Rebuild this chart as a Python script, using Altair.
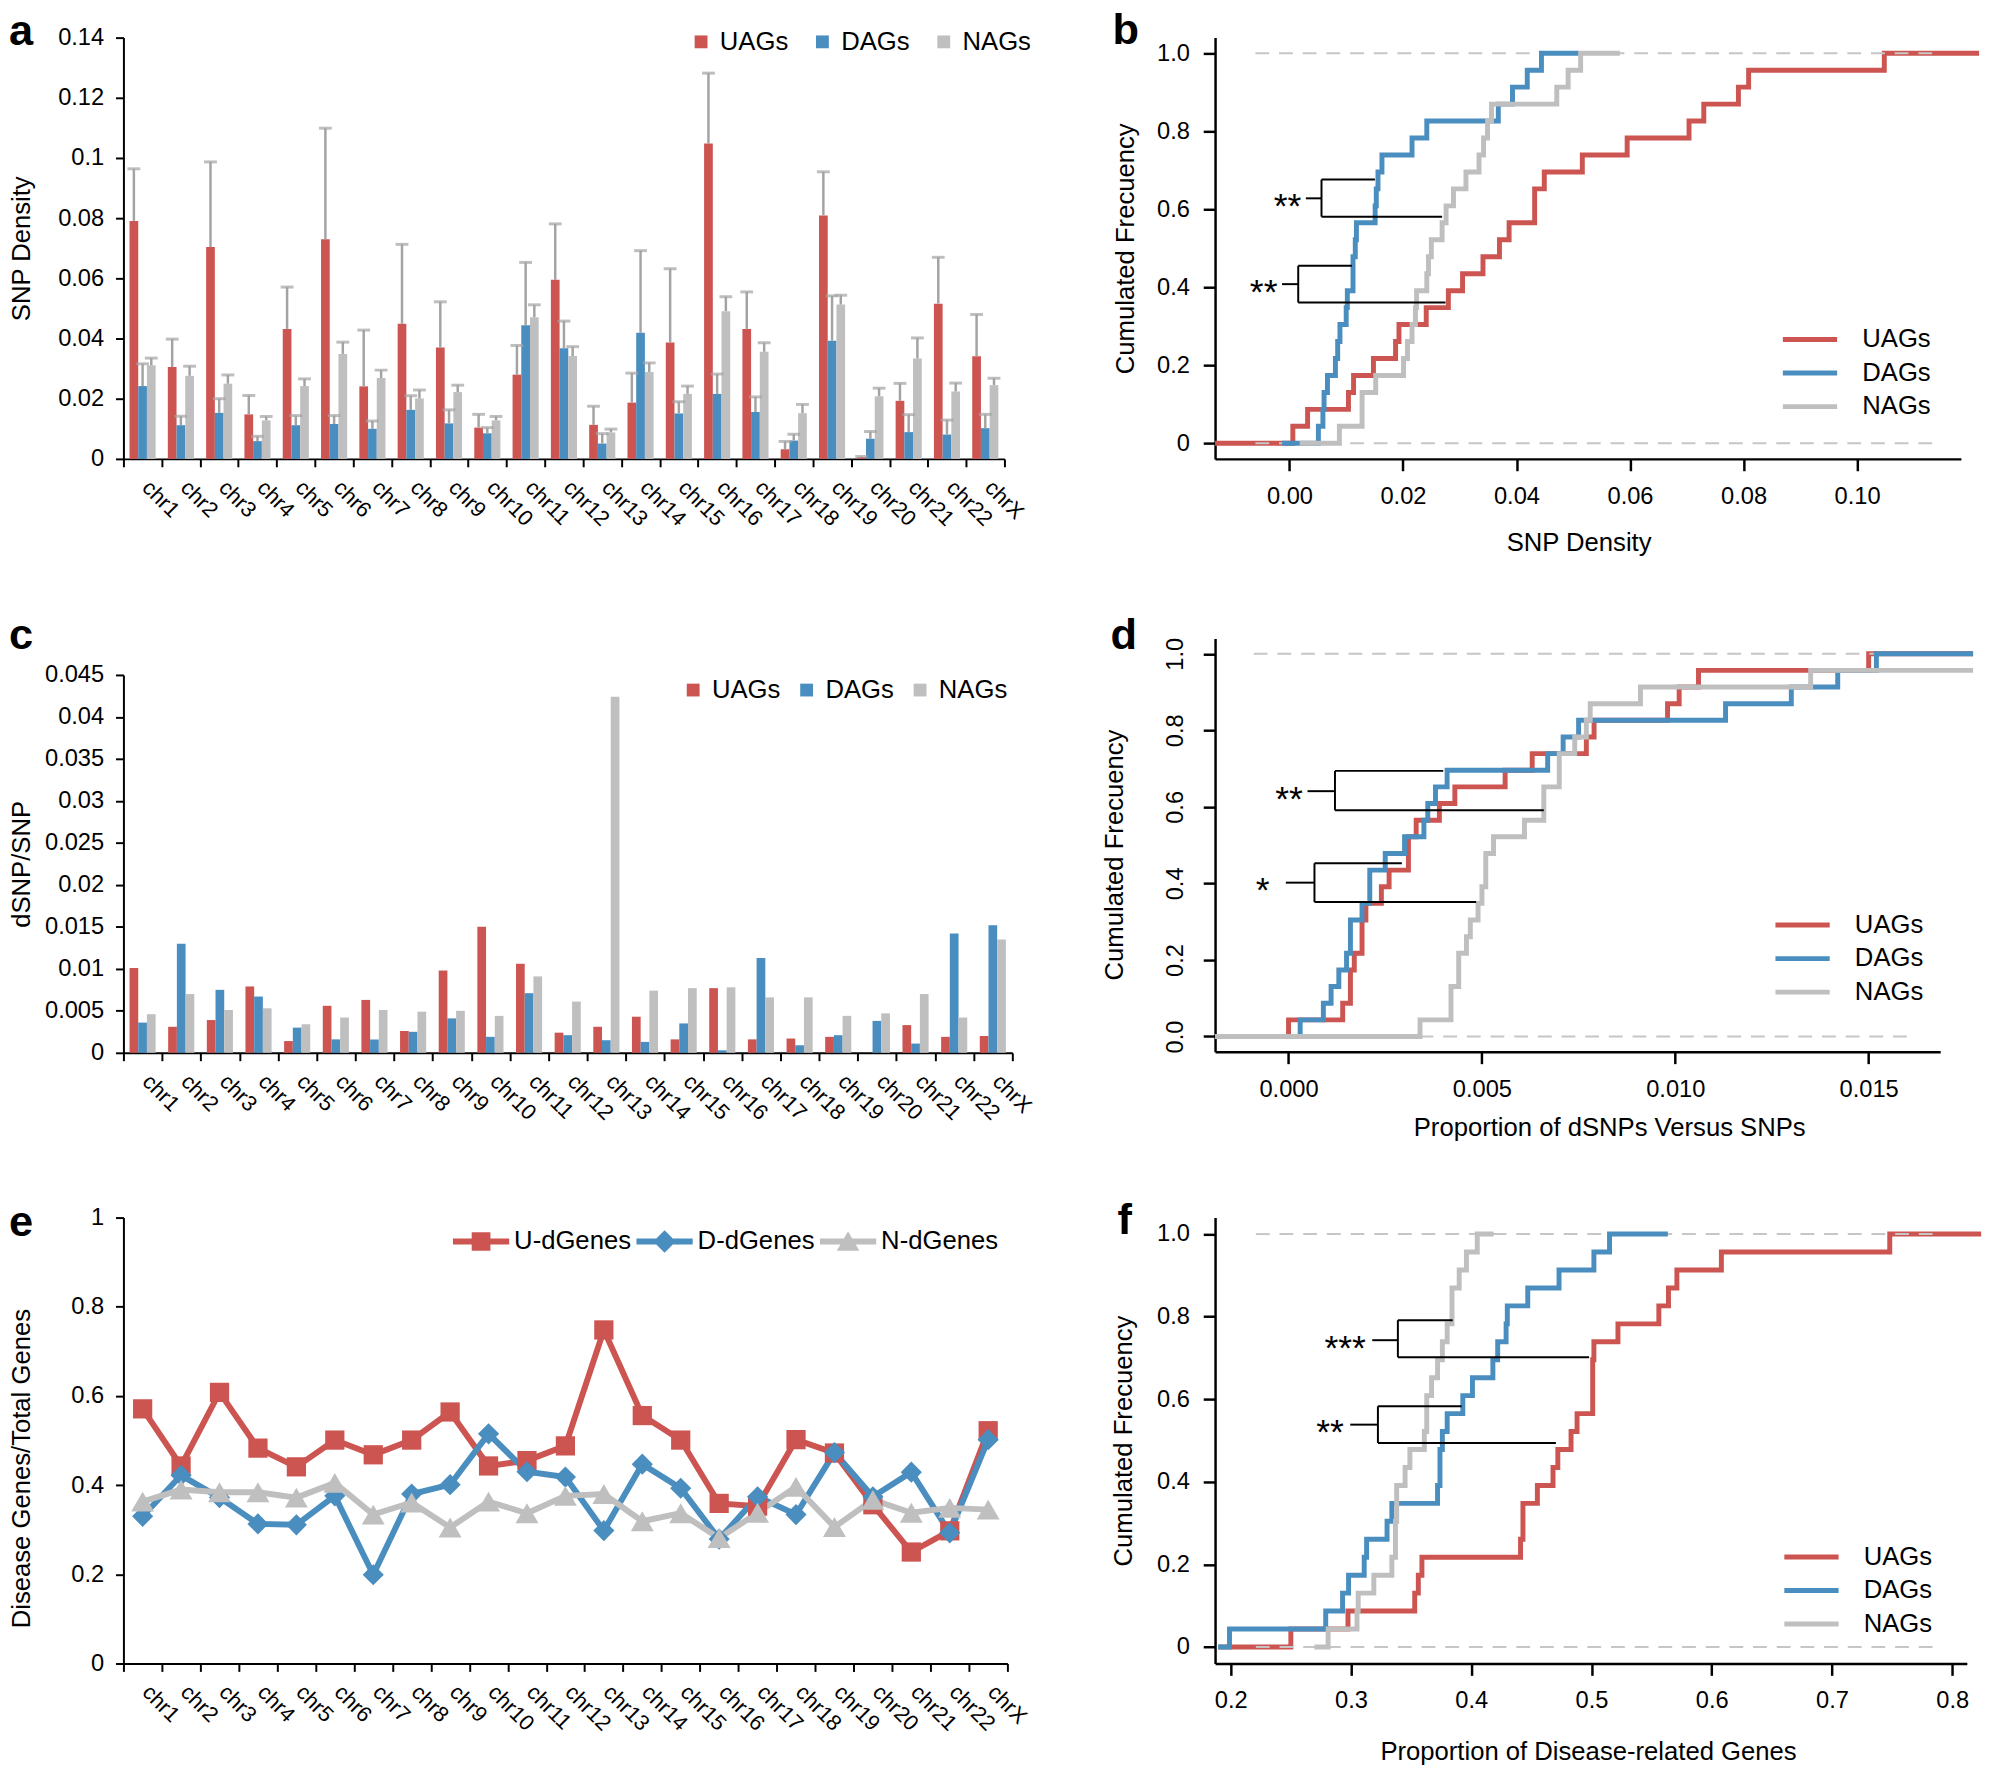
import altair as alt
import pandas as pd

FONT = "Liberation Sans"
RED, BLUE, GRAY = "#CC5451", "#4A8DBF", "#BFBFBF"
COLORS = [RED, BLUE, GRAY]
ERR_COLOR = "#A3A3A3"
DASH_COLOR = "#C6C6C6"

chroms = [f"chr{i}" for i in range(1, 23)] + ["chrX"]
groups = ["UAGs", "DAGs", "NAGs"]
egroups = ["U-dGenes", "D-dGenes", "N-dGenes"]

# ---------------- panel a : SNP density (bar top, error-bar top) ----------------
snp_uag = [0.0791, 0.0305, 0.0704, 0.0148, 0.0432, 0.0730, 0.0241, 0.0449, 0.0370, 0.0104, 0.0280, 0.0595,
           0.0113, 0.0187, 0.0387, 0.1048, 0.0432, 0.0032, 0.0809, 0.0006, 0.0193, 0.0516, 0.0341]
snp_uag_err = [0.0964, 0.0398, 0.0987, 0.0211, 0.0571, 0.1099, 0.0428, 0.0713, 0.0522, 0.0148, 0.0377, 0.0781,
               0.0175, 0.0285, 0.0632, 0.1282, 0.0555, 0.0058, 0.0954, 0.0008, 0.0251, 0.0670, 0.0480]
snp_dag = [0.0242, 0.0112, 0.0153, 0.0059, 0.0112, 0.0116, 0.0100, 0.0163, 0.0118, 0.0085, 0.0444, 0.0368,
           0.0051, 0.0419, 0.0151, 0.0216, 0.0156, 0.0061, 0.0393, 0.0067, 0.0089, 0.0081, 0.0102]
snp_dag_err = [0.0316, 0.0142, 0.0200, 0.0075, 0.0144, 0.0144, 0.0126, 0.0210, 0.0163, 0.0104, 0.0653, 0.0458,
               0.0084, 0.0692, 0.0190, 0.0282, 0.0206, 0.0082, 0.0542, 0.0091, 0.0147, 0.0129, 0.0148]
snp_nag = [0.0311, 0.0276, 0.0250, 0.0128, 0.0242, 0.0349, 0.0269, 0.0201, 0.0222, 0.0128, 0.0471, 0.0342,
           0.0088, 0.0289, 0.0216, 0.0491, 0.0356, 0.0152, 0.0513, 0.0208, 0.0334, 0.0224, 0.0245]
snp_nag_err = [0.0335, 0.0308, 0.0279, 0.0141, 0.0266, 0.0388, 0.0295, 0.0229, 0.0245, 0.0141, 0.0512, 0.0373,
               0.0099, 0.0319, 0.0242, 0.0539, 0.0386, 0.0181, 0.0544, 0.0235, 0.0402, 0.0252, 0.0268]

# ---------------- panel c : dSNP / SNP ----------------
dsnp_uag = [0.0101, 0.0031, 0.0039, 0.0079, 0.0014, 0.0056, 0.0063, 0.0026, 0.0098, 0.0150, 0.0106, 0.0024,
            0.0031, 0.0043, 0.0016, 0.0077, 0.0016, 0.0017, 0.0019, 0.0000, 0.0033, 0.0019, 0.0020]
dsnp_dag = [0.0036, 0.0130, 0.0075, 0.0067, 0.0030, 0.0016, 0.0016, 0.0025, 0.0041, 0.0019, 0.0071, 0.0021,
            0.0015, 0.0013, 0.0035, 0.0003, 0.0113, 0.0009, 0.0021, 0.0038, 0.0011, 0.0142, 0.0152]
dsnp_nag = [0.0046, 0.0070, 0.0051, 0.0053, 0.0034, 0.0042, 0.0051, 0.0049, 0.0050, 0.0044, 0.0091, 0.0061,
            0.0424, 0.0074, 0.0077, 0.0078, 0.0066, 0.0066, 0.0044, 0.0047, 0.0070, 0.0042, 0.0135]

# ---------------- panel e : disease genes / total genes ----------------
dg_u = [0.571, 0.443, 0.608, 0.483, 0.441, 0.501, 0.468, 0.501, 0.564, 0.443, 0.455, 0.488,
        0.748, 0.556, 0.501, 0.359, 0.353, 0.502, 0.472, 0.356, 0.250, 0.2975, 0.522]
dg_d = [0.330, 0.422, 0.372, 0.313, 0.311, 0.376, 0.199, 0.380, 0.401, 0.515, 0.430, 0.418,
        0.298, 0.447, 0.393, 0.279, 0.374, 0.334, 0.473, 0.374, 0.429, 0.293, 0.502]
dg_n = [0.363, 0.390, 0.384, 0.384, 0.372, 0.405, 0.334, 0.361, 0.305, 0.363, 0.337, 0.376,
        0.380, 0.319, 0.337, 0.281, 0.338, 0.396, 0.306, 0.367, 0.338, 0.349, 0.345]

# ---------------- ECDF curve extents (where each drawn step curve starts / stops) ----------------
b_start = [-0.0131, -0.0013, 0.0018]
b_end = [0.1215, 0.0510, 0.0582]
d_start = [-0.0019, -0.0019, -0.0019]
d_end = [0.0177, 0.0177, 0.0177]
f_start = [0.190, 0.1895, 0.2696]
f_end = [0.824, 0.5635, 0.4186]

b_dash = [-0.006, 0.114]
d_dash = [-0.0009, 0.01624]
f_dash = [0.2209, 0.791]

# ---------------- significance brackets ----------------
b_br_left = [0.00565, 0.00155]
b_br_top_end = [0.01506, 0.0110]
b_br_bot_end = [0.0269, 0.0275]
b_br_top = [0.676, 0.455]
b_br_bot = [0.581, 0.361]
b_br_mid = [0.628, 0.408]
b_br_tick = [0.0029, -0.0013]
b_stars = ["**", "**"]
b_star_x = [0.0021, -0.0021]

d_br_left = [0.0012, 0.00067]
d_br_top_end = [0.0040, 0.00293]
d_br_bot_end = [0.0066, 0.00485]
d_br_top = [0.694, 0.4525]
d_br_bot = [0.591, 0.3515]
d_br_mid = [0.641, 0.402]
d_br_tick = [0.00049, -0.00007]
d_stars = ["**", "*"]
d_star_x = [0.00037, -0.00049]

f_br_left = [0.339, 0.3224]
f_br_top_end = [0.3846, 0.392]
f_br_bot_end = [0.498, 0.4704]
f_br_top = [0.7915, 0.583]
f_br_bot = [0.7017, 0.494]
f_br_mid = [0.743, 0.5385]
f_br_tick = [0.3177, 0.2994]
f_stars = ["***", "**"]
f_star_x = [0.3124, 0.2941]

LEG_FONT = 26
TITLE_FONT = 26
LINE_SYMBOL = "M-2.75,0H2.75"


# ======================= helpers =======================
def letter(t, dx, dy):
    return alt.Chart(pd.DataFrame({"t": [t]})).mark_text(
        align="left", baseline="top", fontSize=44, fontWeight="bold", font=FONT, color="black"
    ).encode(x=alt.value(dx), y=alt.value(dy), text="t:N")


def chr_x():
    return alt.X("chr:N", title=None,
                 scale=alt.Scale(domain=chroms, paddingInner=0, paddingOuter=0),
                 axis=alt.Axis(labelAngle=45, labelAlign="left", labelBaseline="top", labelPadding=10,
                               labelOffset=10, labelFontSize=22, tickBand="extent", tickSize=8, tickWidth=2,
                               domainWidth=2, labelOverlap=False, labelFlush=False))


def excel_scale(dom, rng=None):
    if rng is None:
        return alt.Scale(domain=dom, nice=False, zero=True)
    return alt.Scale(domain=dom, nice=False, zero=True, range=rng)


def excel_y(title, values, sc, titleY=None):
    ax = dict(values=values, format="~g", tickSize=8, tickWidth=2, domainWidth=2, labelPadding=12,
              labelFontSize=24, titleFontSize=TITLE_FONT, titleX=-90, labelOverlap=False, labelFlush=False)
    if titleY is not None:
        ax["titleY"] = titleY
    return alt.Y("val:Q", title=title, scale=sc, axis=alt.Axis(**ax))


def long_df(series, names, errs=None):
    rows = []
    for k, (s, n) in enumerate(zip(series, names)):
        for i, c in enumerate(chroms):
            r = {"chr": c, "grp": n, "val": s[i]}
            if errs is not None:
                r["err"] = errs[k][i]
            rows.append(r)
    return pd.DataFrame(rows)


def bar_panel(df, y, ysc, legend_x, legend_y, col_pad, width, height, let, with_err):
    x = chr_x()
    xoff = alt.XOffset("grp:N", scale=alt.Scale(domain=groups, paddingOuter=0.7, paddingInner=0))
    color = alt.Color("grp:N", scale=alt.Scale(domain=groups, range=COLORS),
                      legend=alt.Legend(title=None, orient="none", legendX=legend_x, legendY=legend_y,
                                        direction="horizontal", symbolType="square", symbolSize=169,
                                        symbolStrokeWidth=0, labelFontSize=LEG_FONT, labelOffset=6,
                                        columnPadding=col_pad))
    bars = alt.Chart(df).mark_bar().encode(x=x, xOffset=xoff, y=y, color=color)
    layers = [bars]
    if with_err:
        rules = alt.Chart(df).mark_rule(color=ERR_COLOR, strokeWidth=2.5).encode(
            x=x, xOffset=xoff, y=y, y2="err:Q")
        caps = alt.Chart(df).mark_tick(color=ERR_COLOR, thickness=3, size=13).encode(
            x=x, xOffset=xoff, y=alt.Y("err:Q", scale=ysc))
        layers += [rules, caps]
    layers.append(let)
    return alt.layer(*layers).properties(width=width, height=height)


def ecdf_df(series, starts, ends):
    rows = []
    for s, g, st, en in zip(series, groups, starts, ends):
        vals = sorted(s)
        n = len(vals)
        rows.append({"grp": g, "x": st, "y": 0.0, "i": 0})
        k = 0
        for j, v in enumerate(vals):
            if v > en:
                break
            k = j + 1
            rows.append({"grp": g, "x": v, "y": k / n, "i": k})
        rows.append({"grp": g, "x": en, "y": k / n, "i": n + 1})
    return pd.DataFrame(rows)


def bracket_df(left, top_end, bot_end, top, bot, mid, tick):
    rows = []
    for i in range(len(left)):
        rows.append({"x": left[i], "x2": top_end[i], "y": top[i], "y2": top[i]})
        rows.append({"x": left[i], "x2": left[i], "y": bot[i], "y2": top[i]})
        rows.append({"x": left[i], "x2": bot_end[i], "y": bot[i], "y2": bot[i]})
        rows.append({"x": tick[i], "x2": left[i], "y": mid[i], "y2": mid[i]})
    return pd.DataFrame(rows)


def ecdf_panel(series, starts, ends, xdom, xticks, xfmt, xtitle, width, height, dash, brs, stars,
               star_x, star_y, let, legend_x, legend_y, rotated, ytitleX, ytitleY, xtitleX, xtitlePad):
    data = ecdf_df(series, starts, ends)
    xsc = alt.Scale(domain=xdom, nice=False, zero=False)
    ysc = alt.Scale(domain=[-0.04, 1.04], nice=False, zero=False)
    X = alt.X("x:Q", scale=xsc, title=xtitle,
              axis=alt.Axis(values=xticks, format=xfmt, tickSize=12, tickWidth=2.5, domainWidth=2.5,
                            labelPadding=14, labelFontSize=24, titleFontSize=TITLE_FONT,
                            titlePadding=xtitlePad, titleX=xtitleX, labelOverlap=False, labelFlush=False))
    yax = dict(values=[0, 0.2, 0.4, 0.6, 0.8, 1.0], tickSize=12, tickWidth=2.5, domainWidth=2.5,
               labelFontSize=24, titleFontSize=TITLE_FONT, titleX=ytitleX, labelOverlap=False,
               labelFlush=False)
    if ytitleY is not None:
        yax["titleY"] = ytitleY
    if rotated:
        yax.update(format=".1f", labelAngle=270, labelAlign="center", labelBaseline="bottom", labelPadding=16)
    else:
        yax.update(labelExpr="datum.value == 0 ? '0' : format(datum.value, '.1f')", labelPadding=14)
    Y = alt.Y("y:Q", scale=ysc, title="Cumulated Frecuency", axis=alt.Axis(**yax))
    leg = alt.Legend(title=None, orient="none", legendX=legend_x, legendY=legend_y, direction="vertical",
                     symbolType=LINE_SYMBOL, symbolSize=400, symbolStrokeWidth=5, labelFontSize=LEG_FONT,
                     labelOffset=40, rowPadding=8)
    color = alt.Color("grp:N", scale=alt.Scale(domain=groups, range=COLORS), legend=leg)

    def curve(g):
        return alt.Chart(data).transform_filter(alt.datum.grp == g).mark_line(
            interpolate="step-after", strokeWidth=5, clip=False).encode(
            x=X, y=Y, color=color, order=alt.Order("i:Q"))

    dash_df = pd.DataFrame({"x": [dash[0], dash[0]], "x2": [dash[1], dash[1]], "y": [0.0, 1.0]})
    dashes = alt.Chart(dash_df).mark_rule(color=DASH_COLOR, strokeWidth=2, strokeDash=[14, 10]).encode(
        x=X, x2="x2:Q", y=Y)
    br = alt.Chart(bracket_df(*brs)).mark_rule(color="black", strokeWidth=2).encode(
        x=X, x2="x2:Q", y=Y, y2="y2:Q")
    st_df = pd.DataFrame({"x": star_x, "y": star_y, "t": stars})
    st = alt.Chart(st_df).mark_text(align="right", baseline="alphabetic", dy=20, fontSize=36,
                                    font=FONT, color="black").encode(x=X, y=Y, text="t:N")
    return alt.layer(curve("UAGs"), dashes, curve("DAGs"), curve("NAGs"), br, st, let).properties(
        width=width, height=height)


# ======================= panels =======================
df_a = long_df([snp_uag, snp_dag, snp_nag], groups, [snp_uag_err, snp_dag_err, snp_nag_err])
ysc_a = excel_scale([0, 0.14])
ya = excel_y("SNP Density", [0, 0.02, 0.04, 0.06, 0.08, 0.10, 0.12, 0.14], ysc_a)
panel_a = bar_panel(df_a, ya, ysc_a, 572.5, -8.7, 21, 893, 427, letter("a", -116, -28), True)

panel_b = ecdf_panel([snp_uag, snp_dag, snp_nag], b_start, b_end, [-0.0131, 0.1183],
                     [0, 0.02, 0.04, 0.06, 0.08, 0.10], ".2f", "SNP Density", 756, 427, b_dash,
                     (b_br_left, b_br_top_end, b_br_bot_end, b_br_top, b_br_bot, b_br_mid, b_br_tick),
                     b_stars, b_star_x, b_br_mid, letter("b", -104, -28.5), 590, 293, False, -78, None,
                     368.5, 22)

df_c = long_df([dsnp_uag, dsnp_dag, dsnp_nag], groups)
ysc_c = excel_scale([0, 0.045], [420, 37])
yc = excel_y("dSNP/SNP", [0, 0.005, 0.01, 0.015, 0.02, 0.025, 0.03, 0.035, 0.04, 0.045], ysc_c)
panel_c = bar_panel(df_c, yc, ysc_c, 564.5, 39.3, 13, 901, 420, letter("c", -116, -24.3), False)

panel_d = ecdf_panel([dsnp_uag, dsnp_dag, dsnp_nag], d_start, d_end, [-0.0019, 0.01685],
                     [0, 0.005, 0.010, 0.015], ".3f", "Proportion of dSNPs Versus SNPs", 735, 419, d_dash,
                     (d_br_left, d_br_top_end, d_br_bot_end, d_br_top, d_br_bot, d_br_mid, d_br_tick),
                     d_stars, d_star_x, d_br_mid, letter("d", -106, -24.3), 582.5, 277.5, True, -89, 219,
                     399.5, 13.6)

# panel e: lines + markers, legend drawn from a data-less layer whose shape scale
# holds "line with marker" symbols
df_e = long_df([dg_u, dg_d, dg_n], egroups)
sym_u = "M-1,-0.105H1V0.105H-1Z M-0.333,-0.333H0.333V0.333H-0.333Z"
sym_d = "M-1,-0.105H1V0.105H-1Z M0,-0.4L0.4,0L0,0.4L-0.4,0Z"
sym_n = "M-1,-0.105H1V0.105H-1Z M0,-0.36L0.4,0.33L-0.4,0.33Z"
xe = chr_x()
ye = excel_y("Disease Genes/Total Genes", [0, 0.2, 0.4, 0.6, 0.8, 1.0], excel_scale([0, 1]), titleY=254)
e_leg_props = dict(title=None, orient="none", legendX=334, legendY=-4.5, direction="horizontal",
                   symbolSize=3249, symbolStrokeWidth=0, symbolOpacity=1, labelFontSize=LEG_FONT,
                   labelOffset=5, columnPadding=5)
e_lines = alt.Chart(df_e).mark_line(strokeWidth=6).encode(
    x=xe, y=ye, color=alt.Color("grp:N", scale=alt.Scale(domain=egroups, range=COLORS), legend=None))
e_pts = alt.Chart(df_e).mark_point(filled=True, opacity=1, strokeWidth=0).encode(
    x=xe, y=ye,
    color=alt.Color("grp:N", scale=alt.Scale(domain=egroups, range=COLORS), legend=None),
    shape=alt.Shape("grp:N", scale=alt.Scale(domain=egroups, range=["square", "diamond", "triangle-up"]),
                    legend=None),
    size=alt.Size("grp:N", scale=alt.Scale(domain=egroups, range=[380, 540, 540]), legend=None))
e_leg = alt.Chart(df_e).transform_filter("false").mark_point(filled=True, opacity=1, strokeWidth=0).encode(
    x=xe, y=ye,
    color=alt.Color("grp:N", scale=alt.Scale(domain=egroups, range=COLORS),
                    legend=alt.Legend(**e_leg_props)),
    shape=alt.Shape("grp:N", scale=alt.Scale(domain=egroups, range=[sym_u, sym_d, sym_n]),
                    legend=alt.Legend(**e_leg_props)))
panel_e = alt.layer(e_lines, e_pts, e_leg, letter("e", -116, -16.8)).resolve_scale(
    color="independent", shape="independent", size="independent").properties(width=896, height=452)

panel_f = ecdf_panel([dg_u, dg_d, dg_n], f_start, f_end, [0.187, 0.8121],
                     [0.2, 0.3, 0.4, 0.5, 0.6, 0.7, 0.8], ".1f", "Proportion of Disease-related Genes",
                     762, 452, f_dash,
                     (f_br_left, f_br_top_end, f_br_bot_end, f_br_top, f_br_bot, f_br_mid, f_br_tick),
                     f_stars, f_star_x, f_br_mid, letter("f", -99, -18.2), 591.5, 331, False, -79.5, None,
                     378, 26)

chart = alt.concat(panel_a, panel_b, panel_c, panel_d, panel_e, panel_f, columns=2,
                   spacing={"row": 59, "column": 66.5}, align="each").properties(
    padding={"top": -11, "left": 0, "right": 0, "bottom": 0})
chart = chart.resolve_scale(color="independent", shape="independent", size="independent").resolve_legend(
    color="independent", shape="independent", size="independent")
chart = chart.configure(font=FONT).configure_view(stroke=None).configure_axis(
    grid=False, labelFont=FONT, titleFont=FONT, labelColor="black", titleColor="black",
    domainColor="black", tickColor="black", titleFontWeight="normal"
).configure_legend(labelFont=FONT, labelColor="black", padding=0)

chart.save("out.html", embed_options={"renderer": "svg", "actions": False})
